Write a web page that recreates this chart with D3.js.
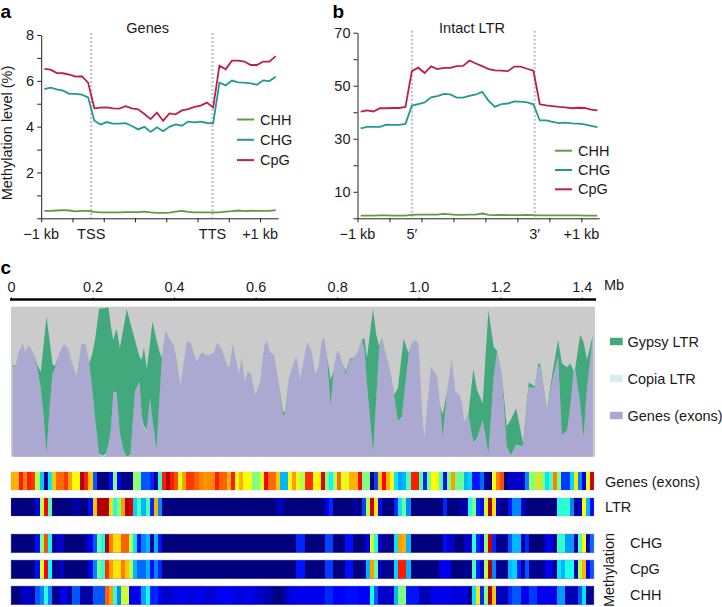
<!DOCTYPE html>
<html>
	<head>
		<title>Methylation</title>
		<style>
			body, html {
				margin: 0;
				background: #fff;
			}
			text {
				font: 14.5px "Liberation Sans", sans-serif;
				fill: #1a1a1a;
			}
			.panel {
				font-size: 19px;
				font-weight: bold;
				fill: #000;
			}
			.axis path, .axis line {
				stroke: #222;
				stroke-width: 1px;
			}
			.axis text {
				font: 14.5px "Liberation Sans", sans-serif;
			}
			.guide {
				stroke: #c2c2c2;
				stroke-width: 2.2px;
				stroke-dasharray: 2 2;
			}
		</style>
	</head>
	<body>

		<svg id="svg" width="722" height="607" style="display:block"></svg>

		<script src="https://d3js.org/d3.v7.min.js"></script>
		<script>
			// Panel a, methylation % over a gene body, 38 bins
			const genesCpG = [6.52,6.49,6.34,6.33,6.27,6.18,6.20,5.92,4.80,4.83,4.84,4.80,4.79,4.89,4.80,4.76,4.55,4.33,4.61,4.25,4.58,4.54,4.71,4.77,4.86,4.92,5.05,4.84,6.66,6.50,6.88,6.88,6.84,6.69,6.69,6.84,6.84,7.08]
			const genesCHG = [5.64,5.70,5.63,5.57,5.43,5.43,5.40,5.28,4.26,4.09,4.20,4.13,4.13,4.15,4.03,3.88,3.99,3.77,3.97,3.80,3.99,4.10,4.04,4.22,4.19,4.22,4.16,4.15,5.92,5.80,6.01,5.93,5.92,5.89,5.83,6.02,5.99,6.18]
			const genesCHH = [.32,.32,.34,.36,.34,.30,.32,.32,.28,.26,.26,.26,.26,.27,.27,.27,.29,.26,.24,.24,.25,.29,.32,.28,.26,.26,.26,.26,.26,.29,.31,.34,.31,.33,.32,.32,.32,.36]

			// Panel b, same thing over intact LTRs
			const ltrCpG = [40.2,40.7,40.3,41.5,41.5,41.6,41.6,42.0,55.5,56.8,54.8,57.3,56.3,56.7,56.7,57.4,57.5,59.5,58.4,57.4,56.3,55.8,55.7,55.5,57.2,57.2,56.4,55.7,43.0,42.6,42.3,42.0,41.8,41.5,41.7,41.6,41.0,40.7]
			const ltrCHG = [33.9,34.5,34.5,34.5,35.3,35.2,35.2,35.6,42.5,43.1,43.7,45.6,46.1,46.9,46.7,45.5,45.5,46.2,46.7,47.7,44.3,42.0,43.1,43.3,44.1,44.0,43.7,43.0,36.9,36.9,36.4,35.9,36.1,35.8,35.7,35.4,34.9,34.4]
			const ltrCHH = [1.0,1.0,1.0,1.1,1.1,1.0,1.0,1.0,1.3,1.4,1.4,1.4,1.4,1.7,1.5,1.3,1.3,1.4,1.4,1.8,1.3,1.2,1.3,1.2,1.2,1.2,1.3,1.2,1.1,1.1,1.1,1.1,1.1,1.1,1.1,1.0,1.0,1.0]

			const seriesNames = ['CHH', 'CHG', 'CpG']
			const seriesColors = ['#5f9a3f', '#1f9a94', '#bd1f48']
			const ticksA = [0,1,2,3,4,5,6,7,8]
			const ticksB = [0,10,20,30,40,50,60,70]
			const binTicks = [-.5,4.5,9.5,14.5,19.5,24.5,29.5,34.5]
			const labelsA = ['\u22121 kb', 'TSS', 'TTS', '+1 kb']
			const labelsB = ['\u22121 kb', '5\u2032', '3\u2032', '+1 kb']

			// Panel c, stacked composition along the 1.43 Mb region (%)
			const regionMb = [.004,.011,.020,.029,.035,.043,.051,.059,.065,.073,.080,.087,.095,.102,.108,.117,.130,.141,.147,.161,.173,.183,.192,.199,.207,.216,.225,.233,.239,.245,.251,.259,.267,.276,.284,.293,.304,.315,.321,.326,.333,.341,.347,.357,.364,.370,.379,.390,.400,.406,.416,.431,.441,.455,.468,.480,.497,.506,.517,.531,.536,.544,.559,.566,.574,.580,.589,.599,.611,.621,.627,.636,.645,.656,.667,.672,.681,.697,.701,.709,.726,.730,.738,.746,.754,.762,.768,.775,.784,.791,.799,.805,.813,.821,.832,.840,.848,.861,.867,.873,.888,.896,.903,.910,.920,.932,.940,.949,.959,.963,.975,.983,.993,1.000,1.008,1.014,1.020,1.030,1.045,1.053,1.059,1.069,1.081,1.090,1.100,1.106,1.112,1.122,1.134,1.143,1.157,1.164,1.171,1.184,1.192,1.204,1.216,1.226,1.239,1.256,1.270,1.285,1.293,1.298,1.315,1.328,1.342,1.351,1.364,1.372,1.380,1.384,1.396,1.404,1.413,1.427]
			const genesPct = [60.4,59.3,70,74.9,69.6,74.2,71.1,65.1,57.8,45.6,26.7,2.2,33.3,55.6,58.9,67.8,75.1,70,64.4,52.9,74.4,75.1,61.8,45.6,23.3,1.8,0,1.1,6.7,17.8,43.3,42.7,15.6,4,0,1.1,43.3,50,26.7,20,16.7,38.9,24.4,4.4,37.8,64.4,84,77.8,72.9,64.4,46.7,76.7,75.6,63.3,68.9,67.1,68.4,76,71.1,60,60,74.4,54.4,64.9,48.9,56.7,54.4,40.4,48.9,73.8,77.1,68.9,67.8,48.9,27.1,28.9,51.1,65.1,64.9,51.6,75.6,75.1,68.9,54.4,58.9,76.7,78.9,66.7,33.3,55.6,69.6,69.6,62.2,54.9,64.4,66,67.8,77.8,71.1,48.9,2.2,38.9,71.1,78.9,67.8,54.4,40,23.3,26.7,37.8,67.1,75.6,77.6,74.4,31.1,12.2,31.1,60,53.3,33.3,12.2,42.2,64.4,43.3,41.1,35.6,22.7,27.8,9.3,12.2,24.4,13.3,1.1,53.3,69.6,53.3,6.7,.7,7.8,6.7,46.2,45.6,60,60,30,51.1,66.7,14.4,17.3,33.3,56.7,58.2,35.6,12.2,45.6,80.4]
			const gypsyPct = [.7,.9,.4,.2,.2,.2,.2,.9,2.7,11.1,47.8,91.1,43.3,5.6,1.6,.2,.2,.7,.5,.4,.2,.2,.4,22.2,56,96.7,98.2,97.3,92.2,68.9,34.4,42.4,56.7,81.8,98.4,87.8,34.4,16.7,37.8,52.2,41.1,36.7,65.6,73.3,32.2,1.1,.2,.2,.4,.2,.4,.2,.2,.2,.2,.2,.2,.2,.2,.4,.2,.2,.2,.2,.4,.2,.2,.2,.2,.2,.2,.2,.2,.7,2.9,.9,.4,.2,.2,.2,.2,.2,.2,.2,.2,.2,.2,.4,17.8,1.1,.2,.2,.2,1.8,.9,.2,.4,.4,7.8,16.7,96,42.2,2.2,.4,.2,.2,1.1,22.2,42.2,40.7,1.8,.2,.2,.2,.2,.2,.2,.2,.4,.4,15.6,.4,.2,.2,.2,.4,.4,.4,48.9,32.2,11.1,53.3,96.2,19.6,1.1,1.1,13.3,23.8,24.4,2.2,3.1,1.1,1.8,1.8,1.1,4.4,11.1,47.8,42.2,28.9,.2,.7,45.6,64.4,18.9,.4]
			const copiaPct = regionMb.map(mb => (mb > .14 && mb < .16) || (mb > .22 && mb < .24) || (mb > .325 && mb < .335) ? .7 : .15)

			const stackKeys = ['genes', 'copia', 'gypsy']
			const stackColors = ['#aba9d2', '#d6edf2', '#41a97b']
			const legendNames = ['Gypsy LTR', 'Copia LTR', 'Genes (exons)']
			const legendColors = ['#41a97b', '#d6edf2', '#aba9d2']
			const mbTicks = [0,.2,.4,.6,.8,1,1.2,1.4]

			// Heat strips, one value per 10 kb bin, in % of the colour range
			const geneHeat = [70,70,85,75,85,82,55,32,5,35,68,77,77,82,72,62,62,95,85,68,20,3,3,3,12,50,10,5,5,5,52,50,20,20,15,5,42,85,95,85,80,60,72,82,82,78,75,73,74,74,85,78,78,70,85,62,70,62,62,50,50,60,88,77,77,68,30,30,62,72,60,55,83,83,63,63,90,50,37,55,77,60,60,70,70,87,50,50,3,18,68,87,70,62,35,28,30,45,85,85,45,15,50,62,62,45,12,50,72,48,48,30,33,13,13,22,5,5,62,75,80,3,8,8,8,8,25,52,52,66,50,35,45,75,50,17,17,33,65,25,10,60,92]
			const ltrHeat = [3,3,3,3,3,3,10,57,88,45,3,3,3,3,3,6,6,4,4,12,68,95,95,95,66,40,50,72,95,90,33,45,30,45,15,70,25,2,2,2,2,2,2,2,2,2,2,2,2,2,2,2,2,2,2,2,2,4,4,3,3,3,3,3,3,7,7,3,3,3,3,3,3,3,3,3,3,10,15,4,4,4,4,4,6,3,18,55,92,65,12,3,3,3,15,35,48,25,3,3,3,3,3,3,3,3,15,3,3,3,6,6,40,50,15,12,58,95,65,8,3,3,13,25,25,8,4,4,4,4,4,4,4,4,40,42,42,25,5,8,62,30,12]
			const chgHeat = [2,2,2,2,2,2,12,50,80,38,5,8,8,3,3,3,3,3,6,10,20,48,38,95,75,66,66,78,78,55,35,12,25,30,6,30,13,2,2,2,2,2,2,2,2,2,2,2,2,2,2,2,2,2,2,2,2,2,2,2,2,2,2,2,2,2,2,2,2,2,15,15,2,3,3,2,2,18,18,3,3,3,12,12,3,3,5,10,58,42,8,5,5,5,35,72,70,30,3,3,3,3,3,3,3,3,12,8,8,3,3,8,8,42,15,10,52,92,15,5,5,5,20,30,30,6,15,3,3,3,3,10,10,3,42,42,27,27,6,45,62,7,22]
			const cpgHeat = [2,2,2,2,2,2,12,60,88,38,5,5,8,3,3,3,3,3,3,10,25,48,42,83,72,65,65,75,68,55,30,22,22,30,12,25,15,2,2,2,2,2,2,2,2,2,2,2,2,2,2,2,2,2,2,2,2,2,2,2,2,2,2,2,2,2,2,2,2,2,13,13,2,2,2,2,2,17,17,3,3,3,12,12,3,3,5,30,72,48,8,5,5,5,33,85,85,30,3,3,3,3,3,3,3,10,10,10,3,3,3,5,5,45,15,8,55,95,25,5,5,5,30,33,15,6,20,5,5,5,5,10,10,3,35,30,40,40,7,55,70,10,20]
			const chhHeat = [3,3,6,8,8,6,20,25,42,25,5,5,10,10,5,20,20,6,6,6,20,20,20,78,72,42,25,58,58,10,10,10,28,38,14,15,10,8,8,9,9,10,10,9,9,10,10,9,8,9,10,10,11,11,10,9,9,10,10,9,8,8,7,6,5,4,5,7,9,10,10,10,10,10,10,10,10,15,15,11,11,11,12,12,12,11,11,10,40,20,8,8,8,8,30,50,50,13,13,13,7,7,7,10,10,10,10,10,9,9,9,9,4,35,65,15,50,95,68,8,7,7,15,20,20,10,10,17,17,10,10,10,10,10,27,27,7,7,7,20,35,5,5]
			const heatRows = [geneHeat, ltrHeat, chgHeat, cpgHeat, chhHeat]
			const heatNames = ['Genes (exons)', 'LTR', 'CHG', 'CpG', 'CHH']

			const svg = d3.select('#svg')

			// Line panels a and b share the same drawing code
			function linePanel(cfg) {
				const x = d3.scaleLinear().domain(cfg.xDomain).range(cfg.xRange)
				const y = d3.scaleLinear().domain(cfg.yDomain).range(cfg.yRange)
				const g = svg.append('g')

				g.selectAll('.guide')
					.data(cfg.guides)
					.enter().append('line')
					.attr('class', 'guide')
					.attr('x1', d => x(d)).attr('x2', d => x(d))
					.attr('y1', cfg.yRange[1] - 2).attr('y2', cfg.yRange[0])

				const line = d3.line().x((d, i) => x(i)).y(d => y(d))
				g.selectAll('.series')
					.data(cfg.series)
					.enter().append('path')
					.attr('class', 'series')
					.attr('d', d => line(d))
					.attr('fill', 'none')
					.attr('stroke-width', 1.8)
					.attr('stroke', (d, i) => seriesColors[i])

				g.append('g')
					.attr('class', 'axis')
					.attr('transform', `translate(0,${cfg.yRange[0]})`)
					.call(d3.axisBottom(x).tickValues(binTicks).tickSize(4).tickSizeOuter(0).tickFormat(''))

				g.append('g')
					.attr('class', 'axis')
					.attr('transform', `translate(${cfg.xRange[0]},0)`)
					.call(d3.axisLeft(y).tickValues(cfg.yTicks).tickSize(4).tickSizeOuter(0)
						.tickFormat(d => cfg.yLabelled.includes(d) ? d : ''))

				g.selectAll('.xlabel')
					.data(cfg.labels)
					.enter().append('text')
					.attr('class', 'xlabel')
					.attr('x', (d, i) => x(cfg.labelAt[i]))
					.attr('y', 239)
					.attr('text-anchor', 'middle')
					.text(d => d)

				g.append('text')
					.attr('x', cfg.titleX).attr('y', 33)
					.attr('text-anchor', 'middle')
					.text(cfg.title)

				// legend, CHH on top
				const leg = g.selectAll('.leg')
					.data(seriesNames)
					.enter().append('g')
					.attr('class', 'leg')
					.attr('transform', (d, i) => `translate(${cfg.legendX},${cfg.legendY + i * cfg.legendStep})`)
				leg.append('line')
					.attr('x1', 0).attr('x2', 17)
					.attr('stroke-width', 2)
					.attr('stroke', (d, i) => seriesColors[i])
				leg.append('text')
					.attr('x', 23).attr('y', 5)
					.text(d => d)
			}

			linePanel({
				xDomain: [-.5, 37.4], xRange: [41.2, 278.2],
				yDomain: [0, 8], yRange: [218.3, 35],
				yTicks: ticksA, yLabelled: [2,4,6,8],
				guides: [7.5, 26.9],
				series: [genesCHH, genesCHG, genesCpG],
				labels: labelsA, labelAt: [-.5, 7.5, 26.9, 34.5],
				title: 'Genes', titleX: 147.7,
				legendX: 237, legendY: 119.5, legendStep: 20.3
			})
			linePanel({
				xDomain: [-.5, 37.3], xRange: [357.5, 599.3],
				yDomain: [0, 70], yRange: [218.3, 32.7],
				yTicks: ticksB, yLabelled: [10,30,50,70],
				guides: [8, 27.2],
				series: [ltrCHH, ltrCHG, ltrCpG],
				labels: labelsB, labelAt: [-.5, 8, 27.2, 34.5],
				title: 'Intact LTR', titleX: 472,
				legendX: 555, legendY: 150.7, legendStep: 19.3
			})

			svg.append('text')
				.attr('transform', 'translate(12,133) rotate(-90)')
				.attr('text-anchor', 'middle')
				.text('Methylation level (%)')

			const panelLetters = [['a', 0.5, 17.5], ['b', 332.5, 17.5], ['c', 0.5, 274]]
			svg.selectAll('.panel')
				.data(panelLetters)
				.enter().append('text')
				.attr('class', 'panel')
				.attr('x', d => d[1]).attr('y', d => d[2])
				.text(d => d[0])

			// Panel c
			const xMb = d3.scaleLinear().domain([0, 1.43]).range([11, 594])
			const yPct = d3.scaleLinear().domain([0, 100]).range([456.7, 306.7])

			svg.append('rect')
				.attr('x', 11).attr('y', 306.7)
				.attr('width', 584).attr('height', 150)
				.attr('fill', '#cbcbcb')

			const table = regionMb.map((mb, i) => ({ mb, genes: genesPct[i], copia: copiaPct[i], gypsy: gypsyPct[i] }))
			const area = d3.area()
				.x(d => xMb(d.data.mb))
				.y0(d => yPct(d[0]))
				.y1(d => yPct(d[1]))
			svg.selectAll('.layer')
				.data(d3.stack().keys(stackKeys)(table))
				.enter().append('path')
				.attr('class', 'layer')
				.attr('d', area)
				.attr('fill', (d, i) => stackColors[i])

			const mbAxis = svg.append('g')
				.attr('class', 'axis')
				.attr('transform', 'translate(0,299.5)')
				.call(d3.axisTop(xMb).tickValues(mbTicks).tickSize(2).tickSizeOuter(0).tickPadding(6)
					.tickFormat(d => d === 0 ? '0' : d3.format('.1f')(d)))
			mbAxis.select('.domain').remove()
			svg.append('line')
				.attr('x1', 10).attr('x2', 596)
				.attr('y1', 299.5).attr('y2', 299.5)
				.attr('stroke', '#000').attr('stroke-width', 2.6)
			svg.append('text').attr('x', 604).attr('y', 290).text('Mb')

			const legendY = d3.scalePoint().domain(legendNames).range([341.5, 415.5])
			legendNames.forEach((name, i) => {
				svg.append('rect')
					.attr('x', 610).attr('y', legendY(name) - 3.7)
					.attr('width', 12.7).attr('height', 7.4)
					.attr('fill', legendColors[i])
				svg.append('text')
					.attr('x', 627.5).attr('y', legendY(name) + 5)
					.text(name)
			})

			// jet colour map, the lowest values stay dark navy
			const jet = d3.scaleLinear()
				.domain([4, 11, 37.5, 62.5, 87.5, 100])
				.range(['#00007f', '#0000ff', '#00ffff', '#ffff00', '#ff0000', '#7f0000'])
				.clamp(true)

			const rowTops = [471.7, 497.7, 534, 560, 586]
			const rowHeight = 18.5
			heatRows.forEach((row, r) => {
				svg.append('g')
					.attr('shape-rendering', 'crispEdges')
					.selectAll('rect')
					.data(row)
					.enter().append('rect')
					.attr('x', (d, i) => xMb(i / 100))
					.attr('width', (d, i) => xMb((i + 1) / 100) - xMb(i / 100))
					.attr('y', rowTops[r])
					.attr('height', rowHeight)
					.attr('fill', d => jet(d))
				svg.append('rect')
					.attr('x', 11).attr('y', rowTops[r])
					.attr('width', xMb(1.43) - 11).attr('height', rowHeight)
					.attr('fill', 'none')
					.attr('stroke', '#8f8fd0')
					.attr('stroke-opacity', r < 2 ? .2 : .45)
					.attr('stroke-width', 1)
			})

			const heatLabelX = [605, 605, 630, 630, 630]
			const heatLabelY = [486.7, 512, 548, 574, 600]
			svg.selectAll('.heatlabel')
				.data(heatNames)
				.enter().append('text')
				.attr('class', 'heatlabel')
				.attr('x', (d, i) => heatLabelX[i])
				.attr('y', (d, i) => heatLabelY[i])
				.text(d => d)

			svg.append('text')
				.attr('transform', 'translate(614,570) rotate(-90)')
				.attr('text-anchor', 'middle')
				.text('Methylation')
		</script>
	</body>
</html>
